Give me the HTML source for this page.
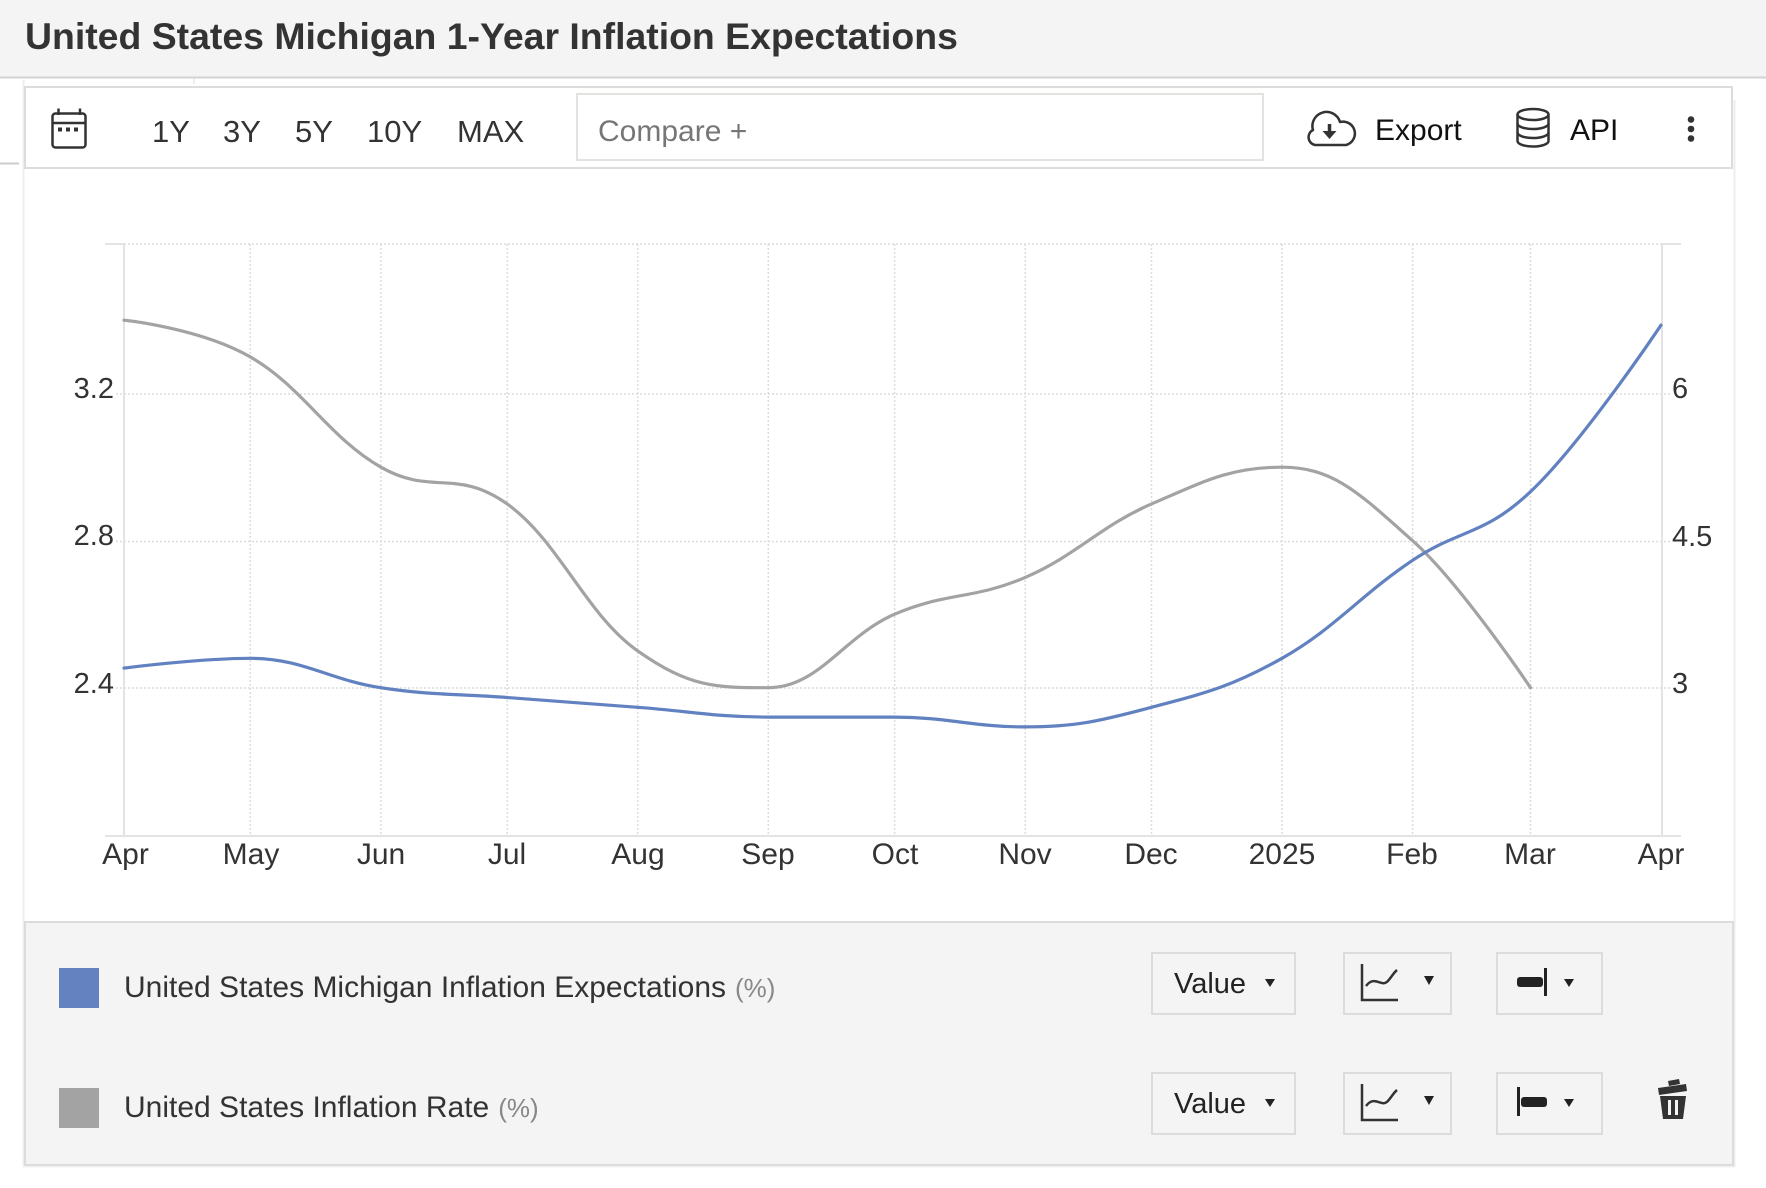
<!DOCTYPE html>
<html>
<head>
<meta charset="utf-8">
<style>
  html,body{margin:0;padding:0;background:#fff;}
  body{width:1766px;height:1188px;overflow:hidden;}
  svg{display:block;font-family:"Liberation Sans",Arial,sans-serif;}
</style>
</head>
<body>
<svg width="1766" height="1188" viewBox="0 0 1766 1188" xmlns="http://www.w3.org/2000/svg">
  <!-- header -->
  <rect x="0" y="0" width="1766" height="77" fill="#f4f4f4"/>
  <line x1="0" y1="77.5" x2="1766" y2="77.5" stroke="#d2d2d2" stroke-width="2"/>
  <text x="25" y="49" font-size="37.4" font-weight="bold" fill="#333">United States Michigan 1-Year Inflation Expectations</text>

  <!-- page decorations -->
  <line x1="194" y1="78" x2="194" y2="84" stroke="#ddd" stroke-width="1"/>
  <line x1="0" y1="163.5" x2="19" y2="163.5" stroke="#ccc" stroke-width="2"/>
  <line x1="23.5" y1="80" x2="23.5" y2="1167" stroke="#eee" stroke-width="2"/>
  <line x1="1734.5" y1="100" x2="1734.5" y2="1167" stroke="#eee" stroke-width="2"/>
  <line x1="23" y1="1166.5" x2="1735" y2="1166.5" stroke="#f0f0f0" stroke-width="2"/>

  <!-- toolbar -->
  <rect x="25" y="87" width="1707" height="81" fill="#fff" stroke="#dcdcdc" stroke-width="2"/>
  <!-- calendar icon -->
  <g stroke="#333" stroke-width="2.5" fill="none">
    <rect x="52.5" y="113.5" width="33" height="34" rx="3"/>
    <line x1="52.5" y1="123" x2="85.5" y2="123"/>
    <line x1="58.5" y1="108.5" x2="58.5" y2="115"/>
    <line x1="80" y1="108.5" x2="80" y2="115"/>
  </g>
  <g fill="#333">
    <rect x="58" y="127.5" width="4" height="4"/>
    <rect x="66" y="127.5" width="4" height="4"/>
    <rect x="74" y="127.5" width="4" height="4"/>
  </g>
  <g font-size="31" fill="#333">
    <text x="152" y="142">1Y</text>
    <text x="223" y="142">3Y</text>
    <text x="295" y="142">5Y</text>
    <text x="367" y="142">10Y</text>
    <text x="457" y="142">MAX</text>
  </g>
  <rect x="577" y="94" width="686" height="66" fill="#fff" stroke="#e2e2de" stroke-width="2"/>
  <text x="598" y="141" font-size="30" fill="#767676">Compare +</text>

  <!-- export cloud -->
  <path d="M1315,145 A8,8 0 0 1 1313,130 A14,14 0 0 1 1340,122 A11,11 0 0 1 1346,145 Z" fill="none" stroke="#333" stroke-width="2.5" stroke-linejoin="round"/>
  <line x1="1329.5" y1="124" x2="1329.5" y2="133" stroke="#333" stroke-width="3.5"/>
  <polygon points="1322.5,131 1336.5,131 1329.5,139" fill="#333"/>
  <text x="1375" y="140" font-size="30" fill="#111">Export</text>

  <!-- database icon -->
  <g stroke="#333" stroke-width="2.5" fill="none">
    <ellipse cx="1533" cy="114.5" rx="15.5" ry="5.5"/>
    <line x1="1517.5" y1="114.5" x2="1517.5" y2="141"/>
    <line x1="1548.5" y1="114.5" x2="1548.5" y2="141"/>
    <path d="M1517.5,123.5 A15.5,5.5 0 0 0 1548.5,123.5"/>
    <path d="M1517.5,132.5 A15.5,5.5 0 0 0 1548.5,132.5"/>
    <path d="M1517.5,141 A15.5,5.5 0 0 0 1548.5,141"/>
  </g>
  <text x="1570" y="140" font-size="30" fill="#111">API</text>
  <g fill="#333">
    <circle cx="1691" cy="119.5" r="3.3"/>
    <circle cx="1691" cy="129" r="3.3"/>
    <circle cx="1691" cy="138.5" r="3.3"/>
  </g>

  <!-- grid -->
  <g stroke="#dcdcdc" stroke-width="1.5" stroke-dasharray="2,2" fill="none">
    <line x1="124" y1="244" x2="1662" y2="244"/>
    <line x1="116" y1="394" x2="1670" y2="394"/>
    <line x1="116" y1="541.5" x2="1670" y2="541.5"/>
    <line x1="116" y1="688" x2="1670" y2="688"/>
    <line x1="250.3" y1="244" x2="250.3" y2="836"/>
    <line x1="380.9" y1="244" x2="380.9" y2="836"/>
    <line x1="507.2" y1="244" x2="507.2" y2="836"/>
    <line x1="637.7" y1="244" x2="637.7" y2="836"/>
    <line x1="768.3" y1="244" x2="768.3" y2="836"/>
    <line x1="894.6" y1="244" x2="894.6" y2="836"/>
    <line x1="1025.2" y1="244" x2="1025.2" y2="836"/>
    <line x1="1151.5" y1="244" x2="1151.5" y2="836"/>
    <line x1="1282" y1="244" x2="1282" y2="836"/>
    <line x1="1412.6" y1="244" x2="1412.6" y2="836"/>
    <line x1="1530.5" y1="244" x2="1530.5" y2="836"/>
  </g>
  <g stroke="#e3e3e3" stroke-width="2" fill="none">
    <line x1="124" y1="244" x2="124" y2="837"/>
    <line x1="1662" y1="244" x2="1662" y2="837"/>
    <line x1="105" y1="836" x2="1681" y2="836"/>
    <line x1="105" y1="244" x2="124" y2="244"/>
    <line x1="1662" y1="244" x2="1681" y2="244"/>
  </g>

  <!-- axis labels -->
  <g font-size="29" fill="#333" text-anchor="end">
    <text x="114" y="398">3.2</text>
    <text x="114" y="545">2.8</text>
    <text x="114" y="693">2.4</text>
  </g>
  <g font-size="29" fill="#333">
    <text x="1672" y="398">6</text>
    <text x="1672" y="546">4.5</text>
    <text x="1672" y="693">3</text>
  </g>
  <g font-size="30" fill="#333" text-anchor="middle">
    <text x="125.5" y="864">Apr</text>
    <text x="251" y="864">May</text>
    <text x="381" y="864">Jun</text>
    <text x="507" y="864">Jul</text>
    <text x="638" y="864">Aug</text>
    <text x="768" y="864">Sep</text>
    <text x="895" y="864">Oct</text>
    <text x="1025" y="864">Nov</text>
    <text x="1151" y="864">Dec</text>
    <text x="1282" y="864">2025</text>
    <text x="1412" y="864">Feb</text>
    <text x="1530" y="864">Mar</text>
    <text x="1661" y="864">Apr</text>
  </g>

  <!-- series -->
  <path id="gray" d="M124,320.2 L250.3,357 L380.9,467.2 L507.2,504 L637.7,651 L768.3,687.7 L894.6,614.2 L1025.2,577.5 L1151.5,504 L1282,467.2 L1412.6,540.7 L1530.5,687.7" fill="none" stroke="#a3a3a3" stroke-width="3.2" stroke-linejoin="round" stroke-linecap="round"/>
  <path id="blue" d="M124,668.1 L250.3,658.3 L380.9,687.7 L507.2,697.5 L637.7,707.3 L768.3,717.1 L894.6,717.1 L1025.2,726.9 L1151.5,707.3 L1282,658.3 L1412.6,560.3 L1530.5,491.7 L1661,325.1" fill="none" stroke="#6181c0" stroke-width="3.2" stroke-linejoin="round" stroke-linecap="round"/>

  <!-- legend panel -->
  <rect x="25" y="922" width="1708" height="243" fill="#f4f4f4" stroke="#dcdcdc" stroke-width="2"/>
  <rect x="59" y="968" width="40" height="40" fill="#6482c0"/>
  <rect x="59" y="1088" width="40" height="40" fill="#a3a3a3"/>
  <text x="124" y="997" font-size="30" fill="#333">United States Michigan Inflation Expectations<tspan font-size="26" fill="#888" dx="9">(%)</tspan></text>
  <text x="124" y="1117" font-size="30" fill="#333">United States Inflation Rate<tspan font-size="26" fill="#888" dx="9">(%)</tspan></text>

  <!-- row buttons -->
  <g fill="#f4f4f4" stroke="#dcdcdc" stroke-width="2">
    <rect x="1152" y="953" width="143" height="61"/>
    <rect x="1344" y="953" width="107" height="61"/>
    <rect x="1497" y="953" width="105" height="61"/>
    <rect x="1152" y="1073" width="143" height="61"/>
    <rect x="1344" y="1073" width="107" height="61"/>
    <rect x="1497" y="1073" width="105" height="61"/>
  </g>
  <g font-size="29" fill="#222">
    <text x="1174" y="993">Value</text>
    <text x="1174" y="1113">Value</text>
  </g>
  <g fill="#222">
    <polygon points="1265,979 1275,979 1270,987"/>
    <polygon points="1265,1099 1275,1099 1270,1107"/>
    <polygon points="1424,976 1434,976 1429,985"/>
    <polygon points="1424,1096 1434,1096 1429,1105"/>
    <polygon points="1564,979 1574,979 1569,987"/>
    <polygon points="1564,1099 1574,1099 1569,1107"/>
  </g>
  <!-- chart type icons -->
  <g stroke="#333" stroke-width="2.5" fill="none">
    <path d="M1362,964 V1000 H1398"/>
    <path d="M1366,986 C1372,978 1377,982 1382,983 C1388,985 1391,975 1397,970"/>
    <path d="M1362,1084 V1120 H1398"/>
    <path d="M1366,1106 C1372,1098 1377,1102 1382,1103 C1388,1105 1391,1095 1397,1090"/>
  </g>
  <!-- axis icons -->
  <g fill="#222">
    <rect x="1517" y="977" width="26" height="10" rx="3"/>
    <rect x="1544" y="968" width="3" height="28"/>
    <rect x="1517" y="1087" width="3" height="29"/>
    <rect x="1521" y="1097" width="26" height="10" rx="3"/>
  </g>
  <!-- trash icon -->
  <g fill="#333">
    <path d="M1668,1081 L1679,1079 L1680,1084 L1669,1086 Z"/>
    <path d="M1658,1088 L1686,1084 L1687,1091 L1659,1095 Z"/>
    <path d="M1660,1096 H1686 L1683,1119 H1663 Z"/>
  </g>
  <g fill="#f4f4f4">
    <rect x="1668" y="1100" width="3" height="15"/>
    <rect x="1675" y="1100" width="3" height="15"/>
  </g>
</svg>
<script>
(function(){
  var xs=[124,250.3,380.9,507.2,637.7,768.3,894.6,1025.2,1151.5,1282,1412.6,1530.5,1661];
  function yl(v){return 393.7+(3.2-v)*367.5;}
  function yr(v){return 393.7+(6-v)*98;}
  var g=[3.4,3.3,3.0,2.9,2.5,2.4,2.6,2.7,2.9,3.0,2.8,2.4];
  var b=[3.2,3.3,3.0,2.9,2.8,2.7,2.7,2.6,2.8,3.3,4.3,5.0,6.7];
  function spline(pts){
    var s=1.5,den=2.5,d='M'+pts[0][0].toFixed(2)+','+pts[0][1].toFixed(2),rc=[];
    for(var i=1;i<pts.length;i++){
      var p=pts[i],lp=pts[i-1],lx,ly,rx,ry;
      if(i<pts.length-1){
        var np=pts[i+1];
        lx=(s*p[0]+lp[0])/den; ly=(s*p[1]+lp[1])/den;
        rx=(s*p[0]+np[0])/den; ry=(s*p[1]+np[1])/den;
        var c=((ry-ly)*(rx-p[0]))/(rx-lx)+p[1]-ry;
        ly+=c; ry+=c;
        if(ly>lp[1]&&ly>p[1]){ly=Math.max(lp[1],p[1]);ry=2*p[1]-ly;}
        else if(ly<lp[1]&&ly<p[1]){ly=Math.min(lp[1],p[1]);ry=2*p[1]-ly;}
        if(ry>np[1]&&ry>p[1]){ry=Math.max(np[1],p[1]);ly=2*p[1]-ry;}
        else if(ry<np[1]&&ry<p[1]){ry=Math.min(np[1],p[1]);ly=2*p[1]-ry;}
        rc[i]=[rx,ry];
      } else {lx=p[0];ly=p[1];}
      var pr=rc[i-1]||lp;
      d+=' C'+pr[0].toFixed(2)+','+pr[1].toFixed(2)+' '+lx.toFixed(2)+','+ly.toFixed(2)+' '+p[0].toFixed(2)+','+p[1].toFixed(2);
    }
    return d;
  }
  var gp=g.map(function(v,i){return [xs[i],yl(v)];});
  var bp=b.map(function(v,i){return [xs[i],yr(v)];});
  document.getElementById('gray').setAttribute('d',spline(gp));
  document.getElementById('blue').setAttribute('d',spline(bp));
})();
</script>
</body>
</html>
